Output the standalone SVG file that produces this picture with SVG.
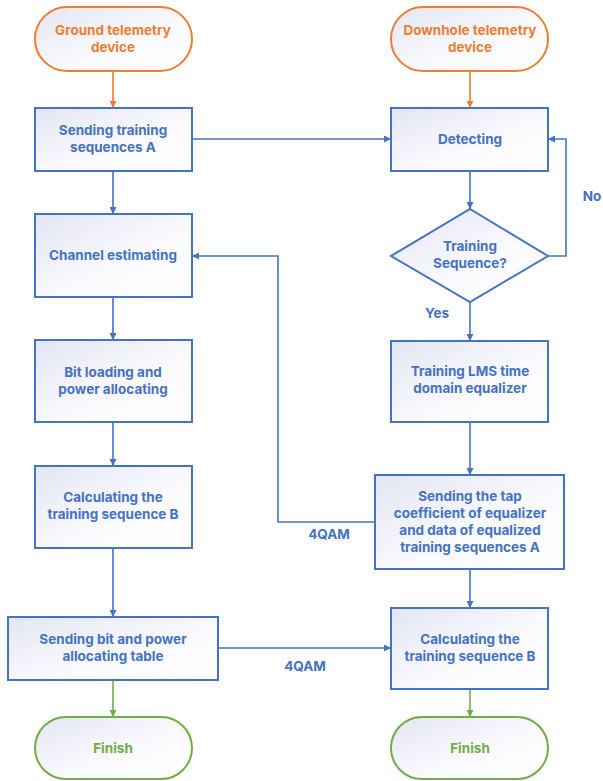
<svg xmlns="http://www.w3.org/2000/svg" width="603" height="781" viewBox="0 0 603 781">
  <defs>
    <linearGradient id="fill" x1="0" y1="0" x2="1" y2="1">
      <stop offset="0" stop-color="#e3e5f3"/>
      <stop offset="0.6" stop-color="#fbfbfe"/>
      <stop offset="1" stop-color="#ffffff"/>
    </linearGradient>
    <marker id="arrB" viewBox="0 0 10 10" refX="10" refY="5" markerWidth="7" markerHeight="7" markerUnits="userSpaceOnUse" orient="auto">
      <path d="M0,0 L10,5 L0,10 z" fill="#4472c4"/>
    </marker>
    <marker id="arrO" viewBox="0 0 10 10" refX="10" refY="5" markerWidth="7" markerHeight="7" markerUnits="userSpaceOnUse" orient="auto">
      <path d="M0,0 L10,5 L0,10 z" fill="#ed7d31"/>
    </marker>
    <marker id="arrG" viewBox="0 0 10 10" refX="10" refY="5" markerWidth="7" markerHeight="7" markerUnits="userSpaceOnUse" orient="auto">
      <path d="M0,0 L10,5 L0,10 z" fill="#70ad47"/>
    </marker>
  </defs>
  <style>
    text { font-family: Inter, "Open Sans", "Liberation Sans", sans-serif; font-weight: 700; font-size: 13.5px; text-anchor: middle; }
    .blue { fill: #4472c4; }
    .orange { fill: #ed7d31; }
    .green { fill: #70ad47; }
    .box { fill: url(#fill); stroke: #4472c4; stroke-width: 2; }
    .term-o { fill: url(#fill); stroke: #ed7d31; stroke-width: 2; }
    .term-g { fill: url(#fill); stroke: #70ad47; stroke-width: 2; }
    .c { fill: none; stroke-width: 1.6; }
    .cb { stroke: #4472c4; marker-end: url(#arrB); }
    .co { stroke: #ed7d31; marker-end: url(#arrO); }
    .cg { stroke: #70ad47; marker-end: url(#arrG); }
  </style>

  <!-- connectors -->
  <g id="connectors">
    <path class="c co" d="M113,71 V108"/>
    <path class="c co" d="M470,71 V108"/>
    <path class="c cb" d="M192,139 H391"/>
    <path class="c cb" d="M113,171 V214"/>
    <path class="c cb" d="M470,171 V209"/>
    <path class="c cb" d="M548,256 H566 V139 H548"/>
    <path class="c cb" d="M470,302 V341"/>
    <path class="c cb" d="M113,297 V340"/>
    <path class="c cb" d="M113,422 V466"/>
    <path class="c cb" d="M470,422 V475"/>
    <path class="c cb" d="M375,522 H278 V256 H192"/>
    <path class="c cb" d="M113,548 V617"/>
    <path class="c cb" d="M470,569 V608"/>
    <path class="c cb" d="M218,648 H391"/>
    <path class="c cg" d="M113,680 V717"/>
    <path class="c cg" d="M470,689 V717"/>
    <text class="blue" x="592" y="201">No</text>
    <text class="blue" x="437" y="318">Yes</text>
    <text class="blue" x="329" y="539">4QAM</text>
    <text class="blue" x="305" y="671">4QAM</text>
  </g>

  <!-- left column: ground side -->
  <g id="ground-device">
    <rect class="term-o" x="35" y="7" width="157" height="64" rx="32" ry="32"/>
    <text class="orange" x="113" y="35">Ground telemetry</text>
    <text class="orange" x="113" y="52">device</text>
  </g>
  <g id="send-seq-a">
    <rect class="box" x="35" y="108" width="157" height="63"/>
    <text class="blue" x="113" y="135">Sending training</text>
    <text class="blue" x="113" y="152">sequences A</text>
  </g>
  <g id="channel-est">
    <rect class="box" x="35" y="214" width="157" height="83"/>
    <text class="blue" x="113" y="260">Channel estimating</text>
  </g>
  <g id="bit-loading">
    <rect class="box" x="35" y="340" width="157" height="82"/>
    <text class="blue" x="113" y="377">Bit loading and</text>
    <text class="blue" x="113" y="394">power allocating</text>
  </g>
  <g id="calc-b-left">
    <rect class="box" x="35" y="466" width="157" height="82"/>
    <text class="blue" x="113" y="502">Calculating the</text>
    <text class="blue" x="113" y="519">training sequence B</text>
  </g>
  <g id="send-table">
    <rect class="box" x="8" y="617" width="210" height="63"/>
    <text class="blue" x="113" y="644">Sending bit and power</text>
    <text class="blue" x="113" y="661">allocating table</text>
  </g>
  <g id="finish-left">
    <rect class="term-g" x="35" y="717" width="157" height="62" rx="31" ry="31"/>
    <text class="green" x="113" y="753">Finish</text>
  </g>

  <!-- right column: downhole side -->
  <g id="downhole-device">
    <rect class="term-o" x="391" y="7" width="157" height="64" rx="32" ry="32"/>
    <text class="orange" x="470" y="35">Downhole telemetry</text>
    <text class="orange" x="470" y="52">device</text>
  </g>
  <g id="detecting">
    <rect class="box" x="391" y="108" width="157" height="63"/>
    <text class="blue" x="470" y="144">Detecting</text>
  </g>
  <g id="is-training">
    <polygon class="box" points="470,209 548,256 470,302 391,256"/>
    <text class="blue" x="470" y="251">Training</text>
    <text class="blue" x="470" y="268">Sequence?</text>
  </g>
  <g id="train-lms">
    <rect class="box" x="391" y="341" width="157" height="81"/>
    <text class="blue" x="470" y="376">Training LMS time</text>
    <text class="blue" x="470" y="393">domain equalizer</text>
  </g>
  <g id="send-taps">
    <rect class="box" x="375" y="475" width="189" height="94"/>
    <text class="blue" x="470" y="501">Sending the tap</text>
    <text class="blue" x="470" y="518">coefficient of equalizer</text>
    <text class="blue" x="470" y="535">and data of equalized</text>
    <text class="blue" x="470" y="552">training sequences A</text>
  </g>
  <g id="calc-b-right">
    <rect class="box" x="391" y="608" width="157" height="81"/>
    <text class="blue" x="470" y="644">Calculating the</text>
    <text class="blue" x="470" y="661">training sequence B</text>
  </g>
  <g id="finish-right">
    <rect class="term-g" x="391" y="717" width="157" height="62" rx="31" ry="31"/>
    <text class="green" x="470" y="753">Finish</text>
  </g>
</svg>
